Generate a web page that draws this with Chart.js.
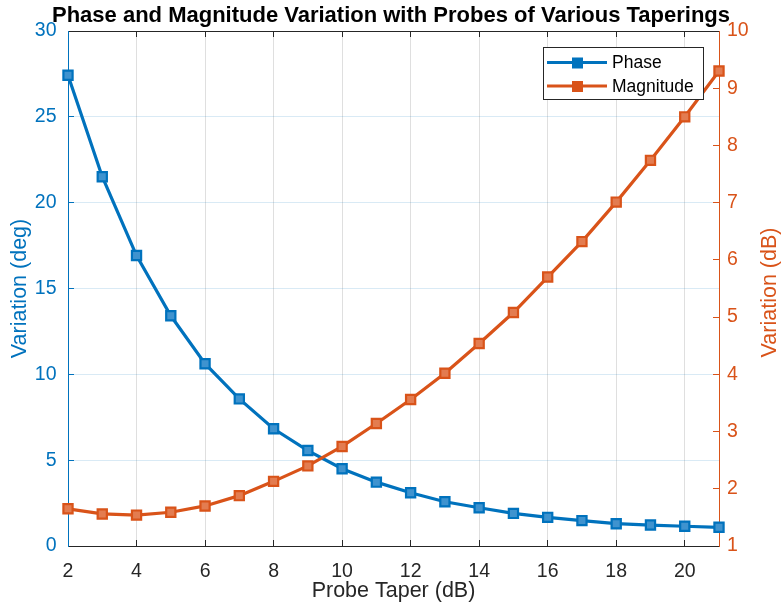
<!DOCTYPE html>
<html>
<head>
<meta charset="utf-8">
<title>Phase and Magnitude Variation</title>
<script src="https://cdn.jsdelivr.net/npm/chart.js@4.4.1/dist/chart.umd.min.js"></script>
<style>
  html, body { margin: 0; padding: 0; background: #ffffff; }
  #wrap { width: 782px; height: 613px; }
</style>
</head>
<body>
<div id="wrap"><canvas id="chart" width="782" height="613"></canvas></div>
<script>
// Probe taper (dB) for each measurement
const probeTaper = [2, 3, 4, 5, 6, 7, 8, 9, 10, 11, 12, 13, 14, 15, 16, 17, 18, 19, 20, 21];
// Phase variation (deg), left axis
const phaseVariation = [27.42, 21.51, 16.92, 13.41, 10.62, 8.57, 6.83, 5.56, 4.50, 3.72,
                        3.10, 2.58, 2.23, 1.90, 1.67, 1.48, 1.30, 1.22, 1.15, 1.09];
// Magnitude variation (dB), right axis
const magnitudeVariation = [1.65, 1.56, 1.54, 1.59, 1.70, 1.88, 2.13, 2.40, 2.74, 3.14,
                            3.56, 4.02, 4.54, 5.08, 5.70, 6.32, 7.01, 7.74, 8.50, 9.30];
// Tick labels
const xTickValues = [2, 4, 6, 8, 10, 12, 14, 16, 18, 20];
const leftTickValues = [0, 5, 10, 15, 20, 25, 30];
const rightTickValues = [1, 2, 3, 4, 5, 6, 7, 8, 9, 10];

const BLUE = '#0072BD';
const ORANGE = '#D95319';
const AXIS = '#262626';
const FONT = "'Liberation Sans', Arial, Helvetica, sans-serif";

const toPoints = (ys) => probeTaper.map((x, i) => ({ x: x, y: ys[i] }));
const fixTicks = (values) => (scale) => { scale.ticks = values.map(v => ({ value: v })); };

// Right-hand axis title (reads bottom to top) and the boxed legend
const extras = {
  id: 'extras',
  afterDraw(chart) {
    const { ctx, chartArea } = chart;
    ctx.save();
    ctx.font = `21.5px ${FONT}`;
    ctx.fillStyle = ORANGE;
    ctx.textAlign = 'center';
    ctx.textBaseline = 'middle';
    ctx.translate(770, (chartArea.top + chartArea.bottom) / 2 + 4);
    ctx.rotate(-Math.PI / 2);
    ctx.fillText('Variation (dB)', 0, 0);
    ctx.restore();

    // legend box
    const bx = 543.5, by = 47.5, bw = 160, bh = 52;
    ctx.save();
    ctx.fillStyle = '#ffffff';
    ctx.fillRect(bx, by, bw, bh);
    ctx.strokeStyle = AXIS;
    ctx.lineWidth = 1;
    ctx.strokeRect(bx, by, bw, bh);
    const rows = [62.5, 86];
    chart.data.datasets.forEach((ds, i) => {
      const y = rows[i];
      ctx.strokeStyle = ds.borderColor;
      ctx.lineWidth = 3;
      ctx.beginPath();
      ctx.moveTo(547, y);
      ctx.lineTo(607, y);
      ctx.stroke();
      ctx.fillStyle = ds.borderColor;
      ctx.fillRect(572, y - 5, 11, 11);
      ctx.fillStyle = '#000000';
      ctx.font = `17.5px ${FONT}`;
      ctx.textAlign = 'left';
      ctx.textBaseline = 'middle';
      ctx.fillText(ds.label, 612, y + 1);
    });
    ctx.restore();
  }
};

new Chart(document.getElementById('chart'), {
  type: 'line',
  data: {
    datasets: [
      {
        label: 'Phase',
        data: toPoints(phaseVariation),
        yAxisID: 'y',
        borderColor: BLUE,
        backgroundColor: BLUE,
        borderWidth: 3.2,
        pointStyle: 'rect',
        pointRadius: 6.5,
        pointBorderWidth: 2.2,
        pointBackgroundColor: '#3f93cf',
        pointBorderColor: BLUE,
        tension: 0,
        clip: false,
        order: 1
      },
      {
        label: 'Magnitude',
        data: toPoints(magnitudeVariation),
        yAxisID: 'y1',
        borderColor: ORANGE,
        backgroundColor: ORANGE,
        borderWidth: 3.2,
        pointStyle: 'rect',
        pointRadius: 6.5,
        pointBorderWidth: 2.2,
        pointBackgroundColor: '#e37c50',
        pointBorderColor: ORANGE,
        tension: 0,
        clip: false,
        order: 0
      }
    ]
  },
  options: {
    responsive: false,
    animation: false,
    devicePixelRatio: 1,
    layout: { padding: 0 },
    plugins: {
      legend: { display: false },
      tooltip: { enabled: false },
      title: {
        display: true,
        text: 'Phase and Magnitude Variation with Probes of Various Taperings',
        color: '#000000',
        font: { family: FONT, size: 22, weight: 'bold' },
        padding: { top: 3, bottom: 1.6 }
      }
    },
    scales: {
      x: {
        type: 'linear',
        position: 'bottom',
        min: 2,
        max: 21,
        afterBuildTicks: fixTicks(xTickValues),
        afterFit: (s) => { s.height = 67; },
        ticks: { color: AXIS, font: { family: FONT, size: 19.5 }, padding: 19.5, maxRotation: 0 },
        grid: {
          color: (c) => (c.tick && c.tick.value === 2) ? 'rgba(0,0,0,0)' : 'rgba(38,38,38,0.15)',
          tickColor: AXIS,
          tickLength: -6,
          lineWidth: 1
        },
        border: { color: AXIS, width: 1 },
        title: {
          display: true,
          text: 'Probe Taper (dB)',
          color: AXIS,
          font: { family: FONT, size: 21.5 },
          padding: { top: 0, bottom: 9 }
        }
      },
      xTop: {
        type: 'linear',
        position: 'top',
        display: true,
        min: 2,
        max: 21,
        afterBuildTicks: fixTicks(xTickValues),
        afterFit: (s) => { s.height = 0; },
        ticks: { display: false },
        grid: { drawOnChartArea: false, tickColor: AXIS, tickLength: -6 },
        border: { color: AXIS, width: 1 }
      },
      y: {
        type: 'linear',
        position: 'left',
        min: 0,
        max: 30,
        afterBuildTicks: fixTicks(leftTickValues),
        afterFit: (s) => { s.width = 68; },
        ticks: { color: BLUE, font: { family: FONT, size: 19.5 }, padding: 17.5 },
        grid: {
          color: (c) => (c.tick && (c.tick.value === 0 || c.tick.value === 30)) ? 'rgba(0,0,0,0)' : 'rgba(0,114,189,0.15)',
          tickColor: BLUE,
          tickLength: -6
        },
        border: { color: BLUE, width: 1 },
        title: {
          display: true,
          text: 'Variation (deg)',
          color: BLUE,
          font: { family: FONT, size: 21.5 },
          padding: { top: 7.5, bottom: 0 }
        }
      },
      y1: {
        type: 'linear',
        position: 'right',
        min: 1,
        max: 10,
        afterBuildTicks: fixTicks(rightTickValues),
        afterFit: (s) => { s.width = 63; },
        ticks: { color: ORANGE, font: { family: FONT, size: 19.5 }, padding: 14 },
        grid: { drawOnChartArea: false, tickColor: ORANGE, tickLength: -6 },
        border: { color: ORANGE, width: 1 }
      }
    }
  },
  plugins: [extras]
});
</script>
</body>
</html>
